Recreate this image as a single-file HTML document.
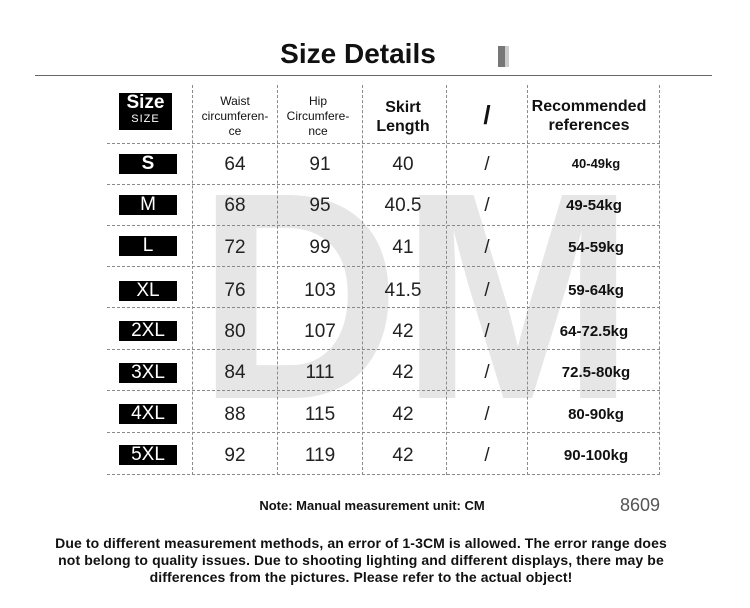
<!DOCTYPE html>
<html><head><meta charset="utf-8"><style>
body{margin:0;width:750px;height:608px;background:#fff;position:relative;overflow:hidden;font-family:"Liberation Sans",sans-serif;color:#111}
.a{position:absolute}
.c{position:absolute;text-align:center;transform:translateX(-50%);white-space:nowrap}
.badge{position:absolute;left:119px;width:58px;height:20px;background:#000;color:#fff;font-size:19px;line-height:20px;text-align:center}
.hl{position:absolute;left:107px;width:553px;border-top:1px dashed #8a8a8a}
.vl{position:absolute;top:85px;height:390px;border-left:1px dashed #8a8a8a}
.num{font-size:19px;color:#222}
.kg{font-size:15px;font-weight:bold}
</style></head><body>
<svg class="a" style="left:0;top:0" width="750" height="608"><text x="197" y="398" font-family="Liberation Sans" font-weight="bold" font-size="295" fill="#e6e6e6" textLength="438" lengthAdjust="spacingAndGlyphs">DM</text></svg>
<div class="c" style="left:358px;top:38px;font-size:28px;font-weight:bold">Size Details</div>
<div class="a" style="left:498px;top:46px;width:7px;height:21px;background:#777"></div>
<div class="a" style="left:505px;top:46px;width:4px;height:21px;background:#ccc"></div>
<div class="a" style="left:35px;top:75px;width:677px;border-top:1px solid #666"></div>

<div class="hl" style="top:143px"></div><div class="hl" style="top:184px"></div><div class="hl" style="top:225px"></div><div class="hl" style="top:266px"></div><div class="hl" style="top:307px"></div><div class="hl" style="top:349px"></div><div class="hl" style="top:390px"></div><div class="hl" style="top:432px"></div><div class="hl" style="top:474px"></div>
<div class="vl" style="left:192px"></div><div class="vl" style="left:277px"></div><div class="vl" style="left:362px"></div><div class="vl" style="left:446px"></div><div class="vl" style="left:527px"></div><div class="vl" style="left:659px"></div>

<div class="a" style="left:119px;top:93px;width:53px;height:37px;background:#000;color:#fff;text-align:center"><div style="font-size:19px;font-weight:bold;line-height:20px">Size</div><div style="font-size:11px;letter-spacing:1px;line-height:13px">SIZE</div></div>
<div class="c" style="left:235px;top:94px;font-size:12px;line-height:15px">Waist<br>circumferen-<br>ce</div>
<div class="c" style="left:318px;top:94px;font-size:12px;line-height:15px">Hip<br>Circumfere-<br>nce</div>
<div class="c" style="left:403px;top:98px;font-size:16px;font-weight:bold;line-height:19px">Skirt<br>Length</div>
<div class="c" style="left:487px;top:100px;font-size:26px;font-weight:bold">/</div>
<div class="c" style="left:589px;top:97px;font-size:16px;font-weight:bold;line-height:19px">Recommended<br>references</div>

<div class="badge" style="top:154px;font-weight:bold">S</div>
<div class="badge" style="top:195px">M</div>
<div class="badge" style="top:236px">L</div>
<div class="badge" style="top:281px">XL</div>
<div class="badge" style="top:321px">2XL</div>
<div class="badge" style="top:363px">3XL</div>
<div class="badge" style="top:404px">4XL</div>
<div class="badge" style="top:445px">5XL</div>

<div class="c num" style="left:235px;top:154px">64</div><div class="c num" style="left:320px;top:154px">91</div><div class="c num" style="left:403px;top:154px">40</div><div class="c num" style="left:487px;top:154px">/</div><div class="c kg" style="left:596px;top:156px;font-size:13px">40-49kg</div>
<div class="c num" style="left:235px;top:195px">68</div><div class="c num" style="left:320px;top:195px">95</div><div class="c num" style="left:403px;top:195px">40.5</div><div class="c num" style="left:487px;top:195px">/</div><div class="c kg" style="left:594px;top:197px">49-54kg</div>
<div class="c num" style="left:235px;top:237px">72</div><div class="c num" style="left:320px;top:237px">99</div><div class="c num" style="left:403px;top:237px">41</div><div class="c num" style="left:487px;top:237px">/</div><div class="c kg" style="left:596px;top:239px">54-59kg</div>
<div class="c num" style="left:235px;top:280px">76</div><div class="c num" style="left:320px;top:280px">103</div><div class="c num" style="left:403px;top:280px">41.5</div><div class="c num" style="left:487px;top:280px">/</div><div class="c kg" style="left:596px;top:282px">59-64kg</div>
<div class="c num" style="left:235px;top:321px">80</div><div class="c num" style="left:320px;top:321px">107</div><div class="c num" style="left:403px;top:321px">42</div><div class="c num" style="left:487px;top:321px">/</div><div class="c kg" style="left:594px;top:323px">64-72.5kg</div>
<div class="c num" style="left:235px;top:362px">84</div><div class="c num" style="left:320px;top:362px">111</div><div class="c num" style="left:403px;top:362px">42</div><div class="c num" style="left:487px;top:362px">/</div><div class="c kg" style="left:596px;top:364px">72.5-80kg</div>
<div class="c num" style="left:235px;top:404px">88</div><div class="c num" style="left:320px;top:404px">115</div><div class="c num" style="left:403px;top:404px">42</div><div class="c num" style="left:487px;top:404px">/</div><div class="c kg" style="left:596px;top:406px">80-90kg</div>
<div class="c num" style="left:235px;top:445px">92</div><div class="c num" style="left:320px;top:445px">119</div><div class="c num" style="left:403px;top:445px">42</div><div class="c num" style="left:487px;top:445px">/</div><div class="c kg" style="left:596px;top:447px">90-100kg</div>

<div class="c" style="left:372px;top:498px;font-size:13px;font-weight:bold">Note: Manual measurement unit: CM</div>
<div class="c" style="left:640px;top:495px;font-size:18px;color:#555">8609</div>
<div class="c" style="left:361px;top:535px;font-size:14px;font-weight:bold;line-height:17px;text-align:center;letter-spacing:0.1px">Due to different measurement methods, an error of 1-3CM is allowed. The error range does<br>not belong to quality issues. Due to shooting lighting and different displays, there may be<br>differences from the pictures. Please refer to the actual object!</div>
</body></html>
